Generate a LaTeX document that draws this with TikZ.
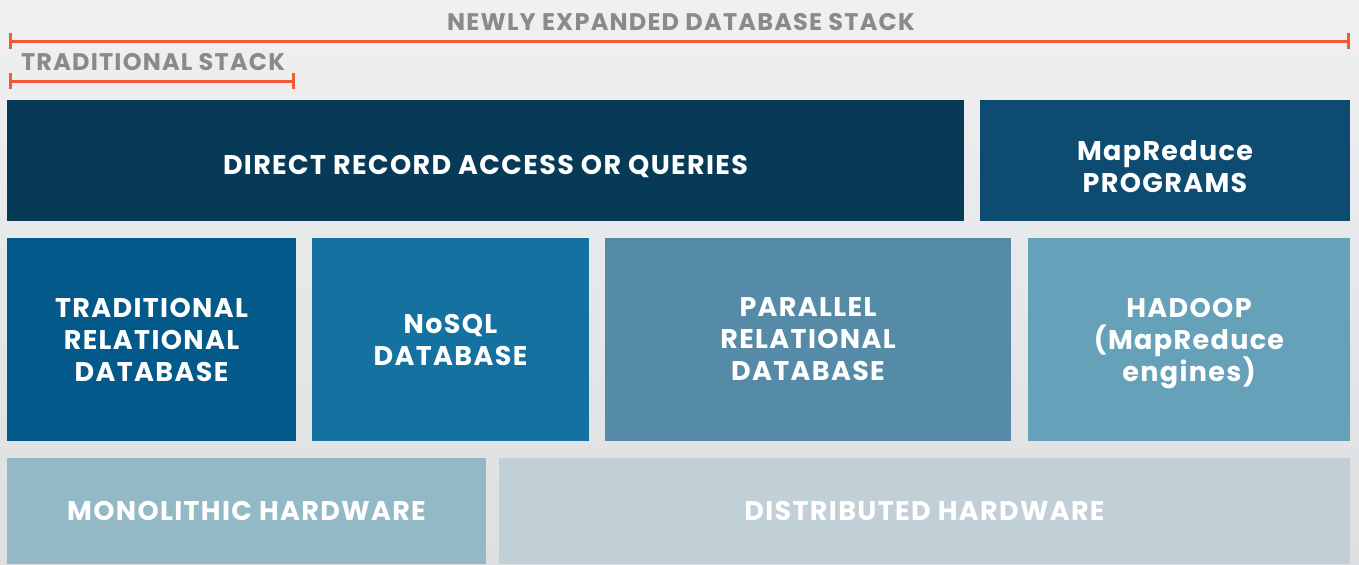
\documentclass[tikz,border=0pt]{standalone}
\usepackage{fontspec}
\setmainfont{Poppins}
\usetikzlibrary{arrows.meta}
\definecolor{bgtop}{HTML}{F0F0F1}
\definecolor{bgbot}{HTML}{DDDFE1}
\definecolor{rulecol}{HTML}{F05A35}
\definecolor{labcol}{HTML}{8A8A8A}
\definecolor{accesscol}{HTML}{063A57}
\definecolor{progcol}{HTML}{0D4B71}
\definecolor{tradcol}{HTML}{03598A}
\definecolor{nosqlcol}{HTML}{1471A0}
\definecolor{parcol}{HTML}{568BA7}
\definecolor{hadoopcol}{HTML}{66A1BA}
\definecolor{monocol}{HTML}{94B9C6}
\definecolor{distcol}{HTML}{C0D0D6}
\tikzstyle{layer}=[rectangle,anchor=north west,outer sep=0pt,inner sep=0pt,
text centered,align=center,text=white,
font=\bfseries\fontsize{13.5}{16}\selectfont\addfontfeature{LetterSpace=5}]
\tikzstyle{stacklabel}=[text=labcol,font=\bfseries\fontsize{12}{14}\selectfont\addfontfeature{LetterSpace=5}]
\tikzstyle{span}=[rulecol,line width=1.5pt,{Bar[width=8pt,line width=1.5pt]}-{Bar[width=8pt,line width=1.5pt]}]

\begin{document}
\begin{tikzpicture}[x=0.5pt,y=-0.5pt]
        \shade[top color=bgtop,bottom color=bgbot] (0,0) rectangle (1359,564);

        % span markers
        \coordinate (newL) at (9,41);
        \coordinate (newR) at (1350,41);
        \coordinate (oldL) at (9,81);
        \coordinate (oldR) at (295,81);
        \node (newlab) [stacklabel] at (681,22) {NEWLY EXPANDED DATABASE STACK};
        \node (oldlab) [stacklabel,anchor=west] at (14,62) {TRADITIONAL STACK};
        \draw [span] (newL) -- (newR);
        \draw [span] (oldL) -- (oldR);

        % top row
        \node (access) [layer,fill=accesscol,minimum width=478.5pt,minimum height=60.5pt,text height=14pt,text depth=0pt] at (7,100) {DIRECT RECORD ACCESS OR QUERIES};
        \node (progs) [layer,fill=progcol,minimum width=185pt,minimum height=60.5pt,text height=32pt,text depth=0pt] at (980,100) {MapReduce\\PROGRAMS};

        % middle row
        \node (trad) [layer,fill=tradcol,minimum width=144.5pt,minimum height=101.5pt] at (7,238) {TRADITIONAL\\RELATIONAL\\DATABASE};
        \node (nosql) [layer,fill=nosqlcol,minimum width=138.5pt,minimum height=101.5pt] at (312,238) {NoSQL\\DATABASE};
        \node (par) [layer,fill=parcol,minimum width=203pt,minimum height=101.5pt] at (605,238) {PARALLEL\\RELATIONAL\\DATABASE};
        \node (hadoop) [layer,fill=hadoopcol,minimum width=161pt,minimum height=101.5pt,text depth=0pt] at (1028,238) {HADOOP\\(MapReduce\\engines)};

        % bottom row
        \node (mono) [layer,fill=monocol,minimum width=239.5pt,minimum height=53pt] at (7,458) {MONOLITHIC HARDWARE};
        \node (dist) [layer,fill=distcol,minimum width=425.5pt,minimum height=53pt] at (499,458) {DISTRIBUTED HARDWARE};
    \end{tikzpicture}
\end{document}
